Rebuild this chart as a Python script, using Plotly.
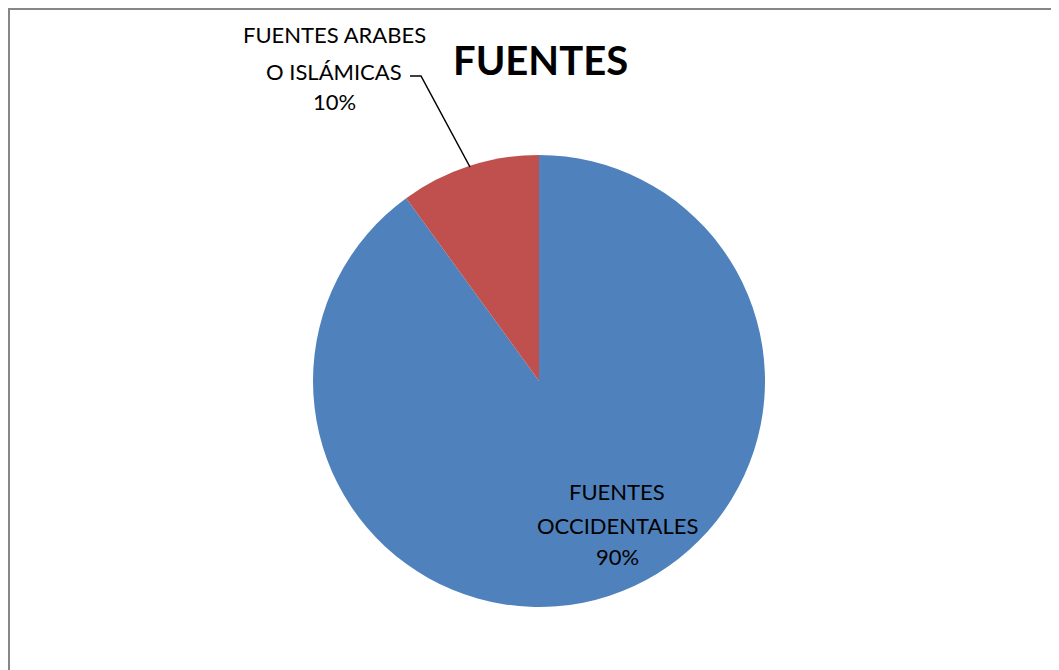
import plotly.graph_objects as go

# ---- data ----
categories = ["FUENTES OCCIDENTALES", "FUENTES ARABES O ISLÁMICAS"]
values = [90, 10]
colors = ["#4F81BD", "#C0504D"]
title_text = "FUENTES"

W, H = 1051, 662
FONT = "Lato, 'Open Sans', sans-serif"
OFF = 8  # page body margin in the browser

def px(x):
    return (x - OFF) / W

def py(y):
    return 1 - (y - OFF) / H

# pie geometry (screen pixels)
cx, cy, r = 539, 381, 226

fig = go.Figure()
fig.add_trace(go.Pie(
    labels=categories,
    values=values,
    marker=dict(colors=colors, line=dict(width=0)),
    sort=False,
    direction="clockwise",
    rotation=0,
    textinfo="none",
    hoverinfo="label+percent",
    showlegend=False,
    domain=dict(x=[px(cx - r), px(cx + r)], y=[py(cy + r), py(cy - r)]),
))

total = sum(values)
pct = [f"{round(v * 100 / total)}%" for v in values]

label_lines = [
    ["FUENTES", "OCCIDENTALES", pct[0]],
    ["FUENTES ARABES", "O ISLÁMICAS", pct[1]],
]
label_centers = [(617, [491, 525, 556]), (334, [34, 71, 101])]

annotations = []
for lines, (xc, ys) in zip(label_lines, label_centers):
    for t, yy in zip(lines, ys):
        annotations.append(dict(
            x=px(xc), y=py(yy), xref="paper", yref="paper",
            text=t, showarrow=False, xanchor="center", yanchor="middle",
            font=dict(family=FONT, size=22, color="#000000"),
        ))

annotations.append(dict(
    x=px(540), y=py(60), xref="paper", yref="paper",
    text=f"<b>{title_text}</b>", showarrow=False, xanchor="center", yanchor="middle",
    font=dict(family=FONT, size=40, color="#000000"),
))

shapes = [
    dict(type="rect", xref="paper", yref="paper",
         x0=px(9), y0=py(720), x1=px(1120), y1=py(9),
         line=dict(color="#878787", width=2), fillcolor="rgba(0,0,0,0)"),
    dict(type="path", xref="paper", yref="paper",
         path=f"M {px(410)},{py(76)} L {px(421)},{py(76)} L {px(470)},{py(167)}",
         line=dict(color="#000000", width=1.5)),
]

fig.update_layout(
    width=W, height=H,
    margin=dict(l=0, r=0, t=0, b=0),
    paper_bgcolor="white",
    plot_bgcolor="white",
    annotations=annotations,
    shapes=shapes,
)

fig.write_html(
    "out.html",
    post_script="document.documentElement.style.overflow='hidden';document.body.style.overflow='hidden';",
)
